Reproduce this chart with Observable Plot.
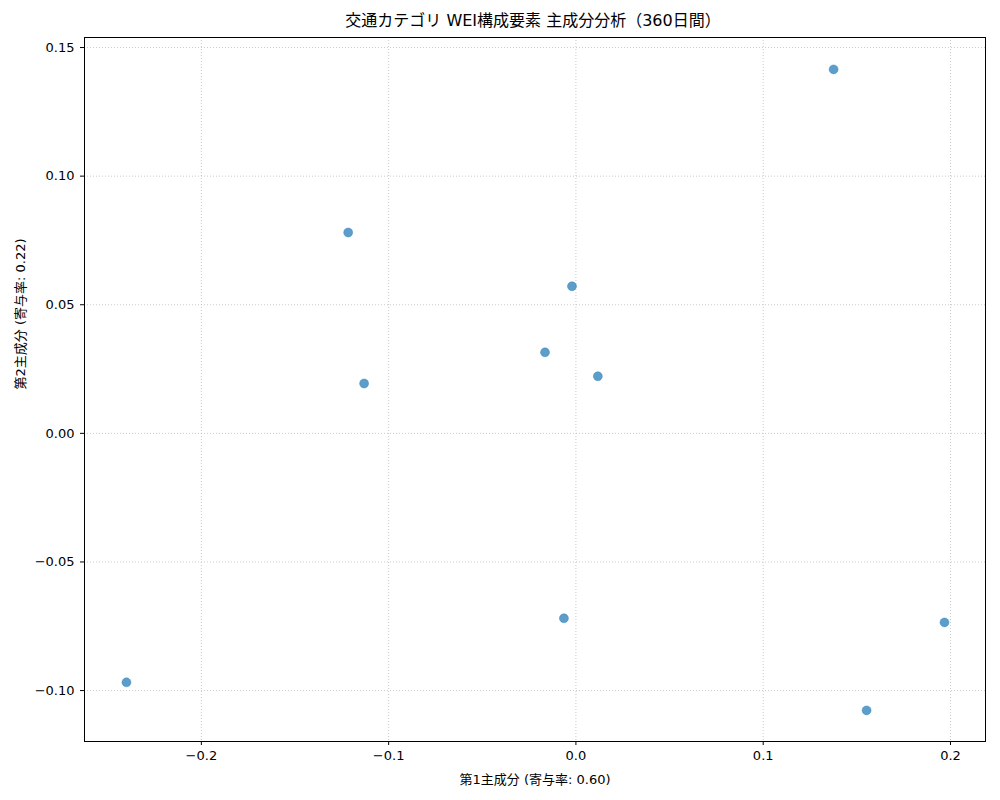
<!DOCTYPE html>
<html><head><meta charset="utf-8">
<script src="https://cdn.jsdelivr.net/npm/d3@7"></script>
<script src="https://cdn.jsdelivr.net/npm/@observablehq/plot@0.6"></script>
<style>
body{margin:0;background:#fff;font-family:"DejaVu Sans","Noto Sans CJK JP",sans-serif;}
#title{height:30px;line-height:30px;padding-top:6px;box-sizing:border-box;text-align:center;font-size:16px;color:#000;padding-left:66px;}
</style></head><body>
<div id="title">交通カテゴリ WEI構成要素 主成分分析（360日間）</div>
<div id="chart"></div>
<script>
const pc1 = [0.1376, -0.1216, -0.0021, -0.0165, 0.0117, -0.1131, -0.0064, 0.1968, -0.2400, 0.1552];
const pc2 = [0.1415, 0.0781, 0.0572, 0.0315, 0.0222, 0.0194, -0.0719, -0.0735, -0.0968, -0.1077];
const xTicks = [-0.2, -0.1, 0.0, 0.1, 0.2];
const yTicks = [-0.10, -0.05, 0.00, 0.05, 0.10, 0.15];
const xLabel = "第1主成分 (寄与率: 0.60)";
const yLabel = "第2主成分 (寄与率: 0.22)";

const data = pc1.map((x, i) => ({x, y: pc2[i]}));
const minus = s => s.replace("-", "−");

const chart = Plot.plot({
  width: 1000,
  height: 770,
  marginTop: 7,
  marginBottom: 59,
  marginLeft: 84,
  marginRight: 15,
  style: {fontFamily: '"DejaVu Sans","Noto Sans CJK JP",sans-serif', fontSize: "13px", color: "#000", background: "#fff"},
  x: {domain: [-0.2624, 0.2187]},
  y: {domain: [-0.1198, 0.1539]},
  marks: [
    Plot.gridX(xTicks, {stroke: "#b0b0b0", strokeOpacity: 0.85, strokeDasharray: "1,2", strokeWidth: 0.8}),
    Plot.gridY(yTicks, {stroke: "#b0b0b0", strokeOpacity: 0.85, strokeDasharray: "1,2", strokeWidth: 0.8}),
    Plot.frame({stroke: "#000", strokeWidth: 1}),
    Plot.axisX(xTicks, {tickFormat: d => minus(d3.format(".1f")(d)), tickSize: 4, tickPadding: 5, label: null, fontSize: 13}),
    Plot.axisY(yTicks, {tickFormat: d => minus(d3.format(".2f")(d)), tickSize: 4, tickPadding: 6, label: null, fontSize: 13}),
    Plot.dot(data, {x: "x", y: "y", r: 4.5, fill: "#1f77b4", fillOpacity: 0.72, stroke: "#1f77b4", strokeOpacity: 0.72, strokeWidth: 0.5}),
    Plot.text([xLabel], {frameAnchor: "bottom", dy: 42, fontSize: 13, fill: "#000"}),
    Plot.text([yLabel], {frameAnchor: "left", dx: -64, rotate: -90, fontSize: 13, fill: "#000"})
  ]
});
document.getElementById("chart").appendChild(chart);
</script>
</body></html>
